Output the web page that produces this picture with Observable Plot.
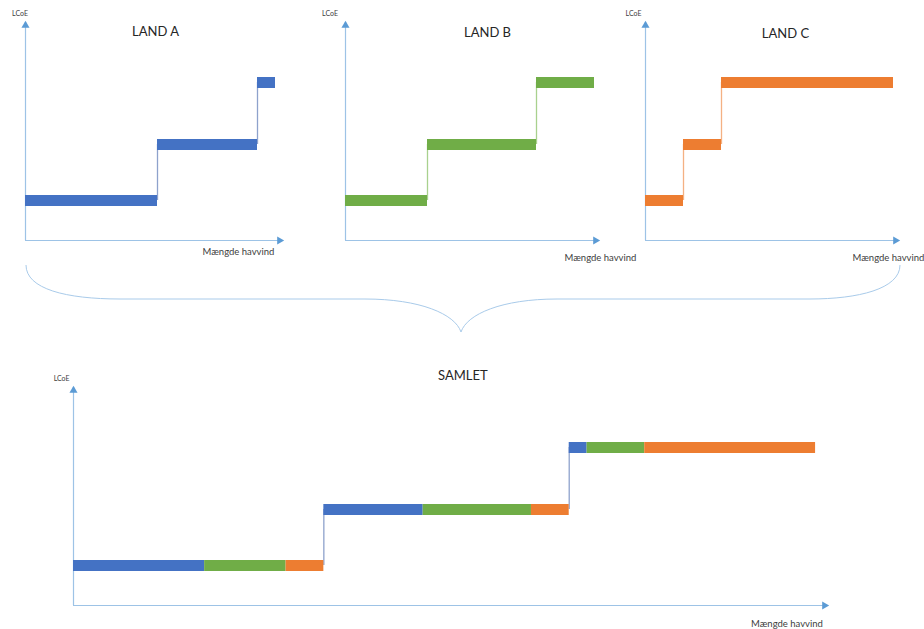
<!DOCTYPE html>
<html><head><meta charset="utf-8">
<script src="https://cdn.jsdelivr.net/npm/d3@7"></script>
<script src="https://cdn.jsdelivr.net/npm/@observablehq/plot@0.6"></script>
<style>
body{margin:0;background:#fff;}
#wrap{position:relative;width:924px;height:629px;overflow:hidden;font-family:Lato,"Open Sans",sans-serif;}
.panel{position:absolute;}
.panel svg{overflow:visible;}
#brace{position:absolute;left:0;top:0;pointer-events:none;}
</style></head><body><div id="wrap"></div>
<script>
// ---- data ----
const countryTitles = ["LAND A", "LAND B", "LAND C"];
const combinedTitle = "SAMLET";
const yLabel = "LCoE";
const xLabel = "Mængde havvind";
const levels = [40, 96, 158];          // LCoE per step (arbitrary units)
const landA = [132, 100, 18];          // amount of offshore wind per step
const landB = [82, 109, 58];
const landC = [38, 38, 172];
const colors = ["#4472C4", "#70AD47", "#ED7D31"];
const stepColors = ["#8EA2CC", "#A9D18E", "#F4B183"];
const combinedStepColor = "#8EA2CC";
const axisColor = "#9DC3E6";
const arrowColor = "#5B9BD5";

const lands = [landA, landB, landC];
const wrap = document.getElementById("wrap");

function countrySegments(k) {
  const segs = [], steps = [];
  let pos = 0;
  levels.forEach((lv, i) => {
    const w = lands[k][i];
    segs.push({x1: pos, x2: pos + w, level: lv, c: k});
    pos += w;
    if (i < levels.length - 1) steps.push({x: pos, y1: lv, y2: levels[i + 1], color: stepColors[k]});
  });
  return {segs, steps};
}
function combinedSegments() {
  const segs = [], steps = [];
  let pos = 0;
  levels.forEach((lv, i) => {
    lands.forEach((land, k) => {
      segs.push({x1: pos, x2: pos + land[i], level: lv, c: k});
      pos += land[i];
    });
    if (i < levels.length - 1) steps.push({x: pos, y1: lv, y2: levels[i + 1], color: combinedStepColor});
  });
  return {segs, steps};
}

const yMax = 218;
const panels = [
  {title: countryTitles[0], ...countrySegments(0), left: 0, top: 0, width: 300, height: 265, mL: 25, mR: 18, mT: 22, mB: 25, xMax: 257,
   titlePos: [130, 209], lcoePos: [-5.5, 227], xlabPos: [177, -11]},
  {title: countryTitles[1], ...countrySegments(1), left: 310, top: 0, width: 300, height: 265, mL: 35, mR: 12, mT: 22, mB: 25, xMax: 253,
   titlePos: [142, 208], lcoePos: [-15.5, 227], xlabPos: [219, -17]},
  {title: countryTitles[2], ...countrySegments(2), left: 615, top: 0, width: 309, height: 265, mL: 30, mR: 26, mT: 22, mB: 25, xMax: 253,
   titlePos: [140, 207], lcoePos: [-12, 227], xlabPos: [207, -17]},
  {title: combinedTitle, ...combinedSegments(), left: 0, top: 350, width: 924, height: 279, mL: 73, mR: 97, mT: 37, mB: 24, xMax: 759,
   titlePos: [392, 230], lcoePos: [-12, 227], xlabPos: [682, -18]}
];

panels.forEach(p => {
  const chart = Plot.plot({
    width: p.width, height: p.height,
    marginLeft: p.mL, marginRight: p.mR, marginTop: p.mT, marginBottom: p.mB,
    x: {domain: [0, p.xMax], axis: null},
    y: {domain: [0, yMax], axis: null},
    color: {type: "identity"},
    style: {fontFamily: "Lato, 'Open Sans', sans-serif", background: "transparent", overflow: "visible"},
    marks: [
      Plot.ruleX([0], {y1: 0, y2: yMax, stroke: axisColor, strokeWidth: 1.2}),
      Plot.ruleY([0], {x1: 0, x2: p.xMax, stroke: axisColor, strokeWidth: 1.2}),
      Plot.dot([{x: 0, y: yMax}], {x: "x", y: "y", symbol: "triangle", r: 3, fill: arrowColor, stroke: "none", dy: 3}),
      Plot.dot([{x: p.xMax, y: 0}], {x: "x", y: "y", symbol: "triangle", r: 3, fill: arrowColor, stroke: "none", rotate: 90, dx: -3}),
      Plot.ruleX(p.steps, {x: "x", y1: "y1", y2: "y2", stroke: "color", strokeWidth: 1.3}),
      Plot.ruleY(p.segs, {y: "level", x1: "x1", x2: "x2", stroke: d => colors[d.c], strokeWidth: 11}),
      Plot.text([{t: p.title, x: p.titlePos[0], y: p.titlePos[1]}], {x: "x", y: "y", text: "t", fontSize: 13, fill: "#262626", textAnchor: "middle"}),
      Plot.text([{t: yLabel, x: p.lcoePos[0], y: p.lcoePos[1]}], {x: "x", y: "y", text: "t", fontSize: 7, fill: "#404040", textAnchor: "middle"}),
      Plot.text([{t: xLabel, x: p.xlabPos[0], y: p.xlabPos[1]}], {x: "x", y: "y", text: "t", fontSize: 9.5, fill: "#404040", textAnchor: "start"})
    ]
  });
  const div = document.createElement("div");
  div.className = "panel";
  div.style.left = p.left + "px";
  div.style.top = p.top + "px";
  div.appendChild(chart);
  wrap.appendChild(div);
});

// decorative brace joining the three country charts to the combined one
const brace = d3.select(wrap).append("svg").attr("id", "brace").attr("width", 924).attr("height", 629);
brace.append("path")
  .attr("d", "M26,265 C26,289 66,299 120,299 L365,299 C420,299 455,314 461,332 C467,314 502,299 557,299 L810,299 C858,299 900,289 900,265")
  .attr("fill", "none").attr("stroke", "#A9CBEA").attr("stroke-width", 1);
</script></body></html>
